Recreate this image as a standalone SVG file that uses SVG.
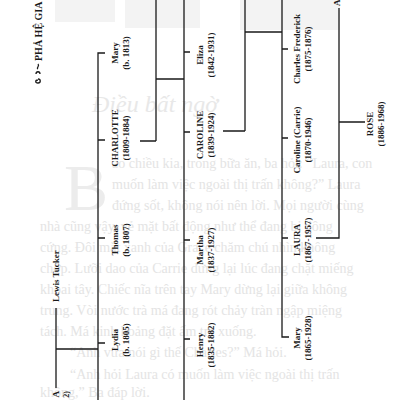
<svg xmlns="http://www.w3.org/2000/svg" width="400" height="400" viewBox="0 0 400 400">
<style>
.bg{font-family:"Liberation Serif",serif;font-size:14px;fill:#e4e4e4}
.lb{font-family:"Liberation Serif",serif;font-size:9px;font-weight:bold;fill:#1a1a1a;text-anchor:middle}
.ln{stroke:#1a1a1a;stroke-width:1.3;fill:none}
</style>
<rect width="400" height="400" fill="#fff"/>
<g id="bleed">
<path d="M55 0h60v22h-60z M125 0h75v28h-75z M240 0h100v30h-100z" fill="#f3f3f3"/>
<text x="92" y="112" style="font-family:'Liberation Serif',serif;font-size:24px;font-style:italic;fill:#e8e8e8">Điều bất ngờ</text>
<text x="64" y="210" style="font-family:'Liberation Serif',serif;font-size:66px;fill:#ececec">B</text>
<text class="bg" x="112" y="168">ao chiều kia, trong bữa ăn, ba hỏi: “Laura, con</text>
<text class="bg" x="112" y="189">muốn làm việc ngoài thị trấn không?” Laura</text>
<text class="bg" x="112" y="210">đứng sốt, không nói nên lời. Mọi người cùng</text>
<text class="bg" x="40" y="231">nhà cũng vậy, vẻ mặt bất động như thể đang bị đông</text>
<text class="bg" x="40" y="252">cứng. Đôi mắt xanh của Grace chăm chú nhìn không</text>
<text class="bg" x="40" y="273">chớp. Lưỡi dao của Carrie dừng lại lúc đang chặt miếng</text>
<text class="bg" x="40" y="294">khoai tây. Chiếc nĩa trên tay Mary dừng lại giữa không</text>
<text class="bg" x="40" y="315">trung. Vòi nước trà má đang rót chảy tràn ngập miệng</text>
<text class="bg" x="40" y="336">tách. Má kinh hoảng đặt ấm trà xuống.</text>
<text class="bg" x="70" y="357">“Anh vừa nói gì thế Charles?” Má hỏi.</text>
<text class="bg" x="70" y="379">“Anh hỏi Laura có muốn làm việc ngoài thị trấn</text>
<text class="bg" x="40" y="397">không,” Ba đáp lời.</text>
</g>
<g id="title">
<text transform="translate(42,61) rotate(-90)" style="font-family:'Liberation Serif',serif;font-size:10px;font-weight:bold;fill:#1a1a1a">PHẢ HỆ GIA</text>
<path d="M38 80c-3 0-3 3 0 3c3 0 3-4 0-4 M36 74c0-3 4-3 4 0 M38 69c-2-1 2-3 0-5" class="ln" stroke-width="1"/>
</g>
<g id="connectors" class="ln">
<path d="M56 308V388M56 349H98"/>
<path d="M105 53H98V400M98 140H105M98 238H105M98 343H105"/>
<path d="M140 141H156M156 0V141M156 79H184"/>
<path d="M184 0V400M184 52H190M184 132H190M184 240H190M184 339H190"/>
<path d="M223 131H245M245 0V131M245 32H282"/>
<path d="M282 0V337H289M282 49H288M282 138H288M282 238H288"/>
<path d="M316 238H339V8M339 122H365"/>
</g>
<g id="lewis"><text class="lb" transform="translate(59,302) rotate(-90)" style="text-anchor:start">Lewis Tucker</text></g>
<g id="martha-m"><text class="lb" transform="translate(59,391) rotate(-90)" style="text-anchor:end">A<tspan x="0" dy="10" style="font-size:8px">2)</tspan></text></g>
<g id="mary1"><text class="lb" transform="translate(118,53) rotate(-90)">Mary<tspan x="0" dy="11">(b. 1813)</tspan></text></g>
<g id="charlotte"><text class="lb" transform="translate(118,138) rotate(-90)">CHARLOTTE<tspan x="0" dy="11">(1809-1884)</tspan></text></g>
<g id="thomas"><text class="lb" transform="translate(118,240) rotate(-90)">Thomas<tspan x="0" dy="11">(b. 1807)</tspan></text></g>
<g id="lydia"><text class="lb" transform="translate(118,340) rotate(-90)">Lydia<tspan x="0" dy="11">(b. 1805)</tspan></text></g>
<g id="eliza"><text class="lb" transform="translate(203,55) rotate(-90)">Eliza<tspan x="0" dy="11">(1842-1931)</tspan></text></g>
<g id="caroline"><text class="lb" transform="translate(203,135) rotate(-90)">CAROLINE<tspan x="0" dy="11">(1839-1924)</tspan></text></g>
<g id="martha"><text class="lb" transform="translate(203,250) rotate(-90)">Martha<tspan x="0" dy="11">(1837-1927)</tspan></text></g>
<g id="henry"><text class="lb" transform="translate(203,345) rotate(-90)">Henry<tspan x="0" dy="11">(1835-1882)</tspan></text></g>
<g id="charles"><text class="lb" transform="translate(300,49) rotate(-90)">Charles Frederick<tspan x="0" dy="11">(1875-1876)</tspan></text></g>
<g id="carrie"><text class="lb" transform="translate(300,140) rotate(-90)">Caroline (Carrie)<tspan x="0" dy="11">(1870-1946)</tspan></text></g>
<g id="laura"><text class="lb" transform="translate(300,240) rotate(-90)">LAURA<tspan x="0" dy="11">(1867-1957)</tspan></text></g>
<g id="mary2"><text class="lb" transform="translate(300,338) rotate(-90)">Mary<tspan x="0" dy="11">(1865-1928)</tspan></text></g>
<g id="rose"><text class="lb" transform="translate(373,124) rotate(-90)">ROSE<tspan x="0" dy="11">(1886-1968)</tspan></text></g>
<g id="almanzo"><text class="lb" transform="translate(340,6) rotate(-90)" style="text-anchor:start">A</text></g>
</svg>
